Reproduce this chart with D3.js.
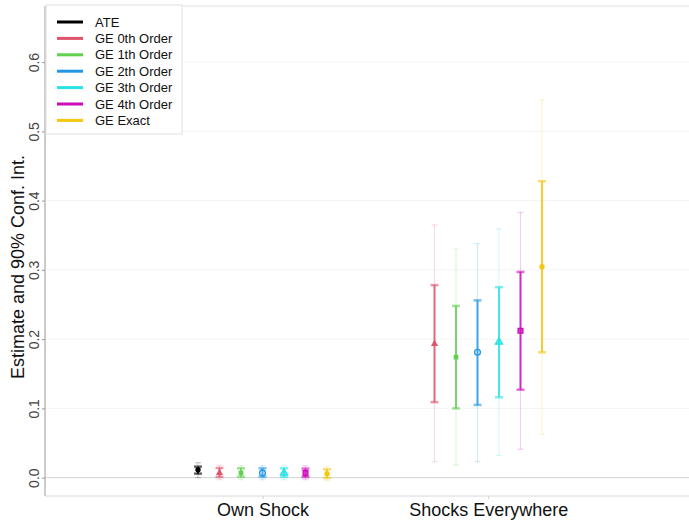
<!DOCTYPE html>
<html>
<head>
<meta charset="utf-8">
<script src="https://cdn.jsdelivr.net/npm/d3@7"></script>
<style>
  body { margin: 0; background: #fff; }
  text { font-family: "Liberation Sans", Arial, sans-serif; }
</style>
</head>
<body>
<svg id="chart" width="689" height="523"></svg>
<script>
// groups on the x axis
const groups = ['Own Shock', 'Shocks Everywhere'];
const series = ['ATE', 'GE 0th Order', 'GE 1th Order', 'GE 2th Order', 'GE 3th Order', 'GE 4th Order', 'GE Exact'];
const colours = ['#000000', '#DF536B', '#61D04F', '#2297E6', '#28E2E5', '#CD0BBC', '#F5C710'];
const shapes = ['circle', 'triangle', 'square', 'ring', 'triangleOpen', 'squareOpen', 'circle'];
const yTicks = [0, 0.1, 0.2, 0.3, 0.4, 0.5, 0.6];

// Own Shock (all 7 series)
const ownEst   = [0.0115, 0.0068, 0.0068, 0.0068, 0.0068, 0.0065, 0.0058];
const ownLo90  = [0.0058, 0.0010, 0.0012, 0.0012, 0.0012, 0.0010, -0.0004];
const ownHi90  = [0.0159, 0.0140, 0.0135, 0.0135, 0.0135, 0.0130, 0.0120];
const ownLoOut = [0.0000, -0.0030, -0.0030, -0.0030, -0.0030, -0.0030, -0.0040];
const ownHiOut = [0.0216, 0.0180, 0.0175, 0.0175, 0.0175, 0.0170, 0.0160];

// Shocks Everywhere (no ATE)
const allEst   = [null, 0.193, 0.174, 0.181, 0.196, 0.212, 0.3045];
const allLo90  = [null, 0.109, 0.100, 0.105, 0.116, 0.127, 0.181];
const allHi90  = [null, 0.278, 0.248, 0.256, 0.275, 0.297, 0.428];
const allLoOut = [null, 0.023, 0.018, 0.023, 0.032, 0.041, 0.063];
const allHiOut = [null, 0.365, 0.330, 0.338, 0.359, 0.383, 0.5455];

const svg = d3.select('#chart');
const margin = { top: 6, right: 0, bottom: 27, left: 45 };
const width = 689, height = 523;

const y = d3.scaleLinear()
  .domain([-0.0265, 0.681])
  .range([height - margin.bottom, margin.top]);

// x: slot positions; own shock uses slots 0-6, shocks everywhere slots 11-16
const x = d3.scaleLinear()
  .domain([0, 1])
  .range([198, 219.5]);
const slotOf = (g, i) => g === 0 ? i : 10 + i;

const rows = [];
series.forEach((s, i) => {
  rows.push({ g: 0, i, est: ownEst[i], lo: ownLo90[i], hi: ownHi90[i], lo2: ownLoOut[i], hi2: ownHiOut[i] });
  if (allEst[i] !== null)
    rows.push({ g: 1, i, est: allEst[i], lo: allLo90[i], hi: allHi90[i], lo2: allLoOut[i], hi2: allHiOut[i] });
});
const groupCentre = [x(3), x(13.5)];

// grid
svg.append('g').selectAll('line').data(yTicks).join('line')
  .attr('x1', margin.left).attr('x2', width)
  .attr('y1', d => y(d)).attr('y2', d => y(d))
  .attr('stroke', '#f4f4f4');

// frame
svg.append('line').attr('x1', margin.left).attr('x2', width)
  .attr('y1', margin.top).attr('y2', margin.top).attr('stroke', '#e2e2e2');
svg.append('line').attr('x1', margin.left).attr('x2', width)
  .attr('y1', y(0)).attr('y2', y(0)).attr('stroke', '#d4d4d4');

// y axis
const yAxis = svg.append('g')
  .attr('transform', `translate(${margin.left},0)`)
  .call(d3.axisLeft(y).tickValues(yTicks).tickFormat(d3.format('.1f')).tickSize(3));
yAxis.select('.domain').attr('stroke', '#9a9a9a').attr('d', `M-0,${margin.top}V${height - margin.bottom}`);
yAxis.selectAll('.tick line').attr('stroke', '#9a9a9a');
yAxis.selectAll('.tick text')
  .attr('transform', 'rotate(-90)')
  .attr('x', 0).attr('y', -6)
  .attr('dy', 0)
  .attr('text-anchor', 'middle')
  .attr('font-size', 14).attr('fill', '#444');

// x axis
const xAxis = svg.append('g')
  .attr('transform', `translate(0,${height - margin.bottom})`)
  .call(d3.axisBottom(d3.scaleOrdinal().domain(groups).range(groupCentre)).tickSize(3).tickPadding(4));
xAxis.select('.domain').attr('stroke', '#d8d8d8').attr('d', `M${margin.left},0H${width}`);
xAxis.selectAll('.tick line').attr('stroke', '#cfcfcf');
xAxis.selectAll('.tick text').attr('font-size', 18).attr('fill', '#111').attr('dy', '0.71em');

// y title
svg.append('text')
  .attr('transform', `translate(24,${267}) rotate(-90)`)
  .attr('text-anchor', 'middle')
  .attr('font-size', 18).attr('fill', '#111')
  .text('Estimate and 90% Conf. Int.');

const px = d => x(slotOf(d.g, d.i));
const marks = svg.append('g').selectAll('g').data(rows).join('g');

// outer faint interval
marks.append('line')
  .attr('x1', px).attr('x2', px)
  .attr('y1', d => y(d.lo2)).attr('y2', d => y(d.hi2))
  .attr('stroke', d => colours[d.i]).attr('stroke-opacity', 0.2).attr('stroke-width', 1.2);
['lo2', 'hi2'].forEach(k => marks.append('line')
  .attr('x1', d => px(d) - 3).attr('x2', d => px(d) + 3)
  .attr('y1', d => y(d[k])).attr('y2', d => y(d[k]))
  .attr('stroke', d => colours[d.i]).attr('stroke-opacity', 0.2).attr('stroke-width', 1.2));

// 90% interval
marks.append('line')
  .attr('x1', px).attr('x2', px)
  .attr('y1', d => y(d.lo)).attr('y2', d => y(d.hi))
  .attr('stroke', d => colours[d.i]).attr('stroke-opacity', 0.85).attr('stroke-width', 2);
['lo', 'hi'].forEach(k => marks.append('line')
  .attr('x1', d => px(d) - 4).attr('x2', d => px(d) + 4)
  .attr('y1', d => y(d[k])).attr('y2', d => y(d[k]))
  .attr('stroke', d => colours[d.i]).attr('stroke-opacity', 0.6).attr('stroke-width', 2.5));

// point markers
const symType = { circle: d3.symbolCircle, ring: d3.symbolCircle, triangle: d3.symbolTriangle,
  triangleOpen: d3.symbolTriangle, square: d3.symbolSquare, squareOpen: d3.symbolSquare };
marks.append('path')
  .attr('transform', d => `translate(${px(d)},${y(d.est)})`)
  .attr('d', d => d3.symbol().type(symType[shapes[d.i]]).size(shapes[d.i] === 'ring' ? 26 : 22)())
  .attr('fill', d => shapes[d.i] === 'ring' ? 'none' : colours[d.i])
  .attr('fill-opacity', d => shapes[d.i].endsWith('Open') ? 0.6 : 1)
  .attr('stroke', d => colours[d.i])
  .attr('stroke-width', d => shapes[d.i] === 'ring' || shapes[d.i].endsWith('Open') ? 1.4 : 0);

// legend
const legend = svg.append('g');
legend.append('rect')
  .attr('x', 46).attr('y', 5).attr('width', 136).attr('height', 129)
  .attr('fill', '#fff').attr('stroke', '#e0e0e0');
const li = legend.selectAll('g').data(series).join('g')
  .attr('transform', (d, i) => `translate(0,${22 + i * 16.4})`);
li.append('line').attr('x1', 57).attr('x2', 83)
  .attr('stroke', (d, i) => colours[i]).attr('stroke-width', 3);
li.append('text').attr('x', 95).attr('dy', '0.35em')
  .attr('font-size', 13).attr('fill', '#111').text(d => d);
</script>
</body>
</html>
